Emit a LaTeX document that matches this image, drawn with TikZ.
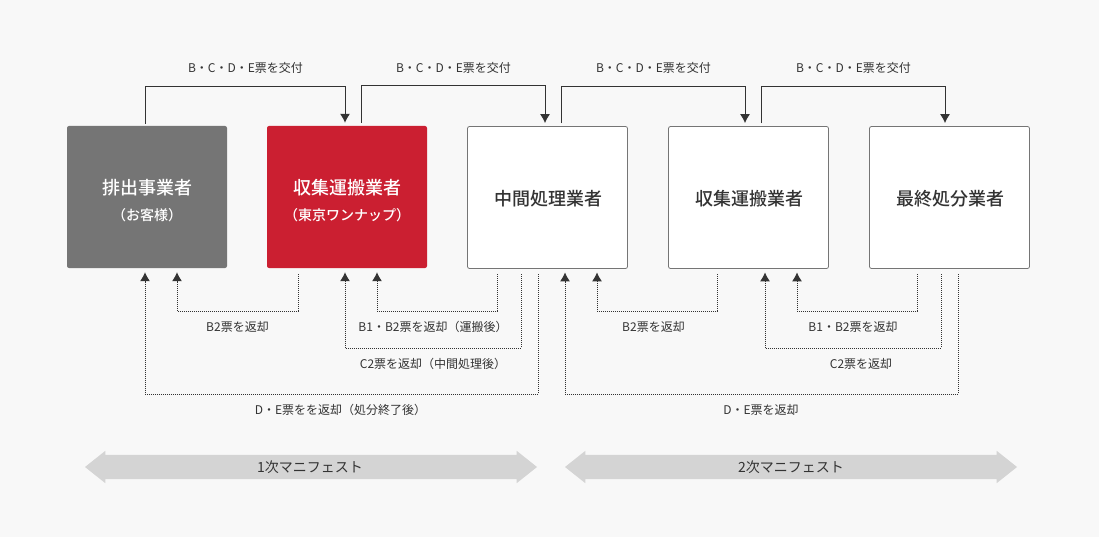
\documentclass[tikz,border=0pt]{standalone}
\usepackage{fontspec}
\setmainfont{Noto Sans CJK JP}[BoldFont={Noto Sans CJK JP Medium}]
\usetikzlibrary{arrows.meta,shapes.arrows}
\definecolor{bgcol}{HTML}{F8F8F8}
\definecolor{inkcol}{HTML}{333333}
\definecolor{graycol}{HTML}{757575}
\definecolor{redcol}{HTML}{CB1F31}
\definecolor{bandcol}{HTML}{D4D4D4}
\tikzset{
  box/.style={minimum width=160pt,minimum height=142pt,inner sep=0pt,rounded corners=2pt,align=center,
    font=\fontsize{18pt}{28pt}\selectfont\bfseries},
  whitebox/.style={box,draw=graycol,fill=white,text=inkcol,line width=0.8pt},
  graybox/.style={box,fill=graycol,text=white},
  redbox/.style={box,fill=redcol,text=white},
  lab/.style={inner sep=0pt,text=inkcol,font=\fontsize{12pt}{12pt}\selectfont},
  koufu/.style={line width=1pt,draw=inkcol,-{Latex[length=9pt,width=10pt]}},
  henkyaku/.style={line width=1pt,draw=inkcol,dash pattern=on 1pt off 1pt,-{Latex[length=9pt,width=10pt]}},
  band/.style={shape=double arrow,fill=bandcol,text=inkcol,inner sep=0pt,minimum height=452pt,minimum width=32pt,
    double arrow head extend=4pt,double arrow tip angle=77,text height=17pt,text depth=7pt,
    font=\fontsize{14pt}{14pt}\selectfont},
}
\newcommand{\subtxt}[1]{{\fontsize{14pt}{14pt}\selectfont #1}}
\newcommand{\lowera}{\rule{0pt}{23pt}}
\newcommand{\lowerb}{\rule{0pt}{18pt}\hspace{1pt}}
\begin{document}
\begin{tikzpicture}[x=1pt,y=-1pt]
    % background
    \fill[bgcol] (0,0) rectangle (1099,537);
    \useasboundingbox (0,0) rectangle (1099,537);

    % boxes
    \node[graybox] (haishutsu) at (147,197) {\lowera 排出事業者\\[-2pt]\subtxt{（お客様）}};
    \node[redbox] (shushu) at (347,197) {\lowera 収集運搬業者\\[-2pt]\subtxt{（東京ワンナップ）}};
    \node[whitebox] (chukan) at (547.5,197.5) {\lowerb 中間処理業者};
    \node[whitebox] (shushub) at (748.5,197.5) {\lowerb 収集運搬業者};
    \node[whitebox] (saishu) at (949.5,197.5) {\lowerb 最終処分業者};

    % issuing
    \draw[koufu] ([xshift=-2pt,yshift=2pt]haishutsu.north) -- ++(0,-37) -| ([xshift=-2pt,yshift=3pt]shushu.north);
    \draw[koufu] ([xshift=14pt,yshift=3pt]shushu.north) -- ++(0,-37) -| ([xshift=-2.5pt,yshift=3pt]chukan.north);
    \draw[koufu] ([xshift=13.5pt,yshift=3pt]chukan.north) -- ++(0,-37) -| ([xshift=-3.5pt,yshift=3pt]shushub.north);
    \draw[koufu] ([xshift=12.5pt,yshift=3pt]shushub.north) -- ++(0,-37) -| ([xshift=-4.5pt,yshift=3pt]saishu.north);
    \node[lab] (koufua) at (245.5,68) {B・C・D・E票を交付};
    \node[lab] (koufub) at (453.5,68) {B・C・D・E票を交付};
    \node[lab] (koufuc) at (653.5,68) {B・C・D・E票を交付};
    \node[lab] (koufud) at (853.5,68) {B・C・D・E票を交付};

    % returning, first manifest
    \draw[henkyaku] ([xshift=-49pt,yshift=-6pt]shushu.south) -- ++(0,37) -| ([xshift=30pt,yshift=-4pt]haishutsu.south);
    \draw[henkyaku] ([xshift=-50.5pt,yshift=-5.5pt]chukan.south) -- ++(0,37) -| ([xshift=30pt,yshift=-4pt]shushu.south);
    \draw[henkyaku] ([xshift=-26.5pt,yshift=-5.5pt]chukan.south) -- ++(0,74) -| ([xshift=-2pt,yshift=-4pt]shushu.south);
    \draw[henkyaku] ([xshift=-9.5pt,yshift=-5.5pt]chukan.south) -- ++(0,120) -| ([xshift=-2pt,yshift=-4pt]haishutsu.south);
    \node[lab] (henb) at (237.5,327) {B2票を返却};
    \node[lab] (henbb) at (433,327) {B1・B2票を返却（運搬後）};
    \node[lab] (henc) at (433,364) {C2票を返却（中間処理後）};
    \node[lab] (hende) at (340.5,410) {D・E票をを返却（処分終了後）};

    % returning, second manifest
    \draw[henkyaku] ([xshift=-31.5pt,yshift=-5.5pt]shushub.south) -- ++(0,37) -| ([xshift=49.5pt,yshift=-3.5pt]chukan.south);
    \draw[henkyaku] ([xshift=-32.5pt,yshift=-5.5pt]saishu.south) -- ++(0,37) -| ([xshift=48.5pt,yshift=-3.5pt]shushub.south);
    \draw[henkyaku] ([xshift=-8.5pt,yshift=-5.5pt]saishu.south) -- ++(0,74) -| ([xshift=16.5pt,yshift=-3.5pt]shushub.south);
    \draw[henkyaku] ([xshift=8.5pt,yshift=-5.5pt]saishu.south) -- ++(0,120) -| ([xshift=17.5pt,yshift=-3.5pt]chukan.south);
    \node[lab] (henbc) at (653.5,327) {B2票を返却};
    \node[lab] (henbd) at (853,327) {B1・B2票を返却};
    \node[lab] (hencb) at (861,364) {C2票を返却};
    \node[lab] (hendeb) at (761,410) {D・E票を返却};

    % manifest bands
    \node[band] (ichiji) at (311,467) {\hspace{-2pt}1次マニフェスト};
    \node[band] (niji) at (791,467) {2次マニフェスト};
\end{tikzpicture}
\end{document}
